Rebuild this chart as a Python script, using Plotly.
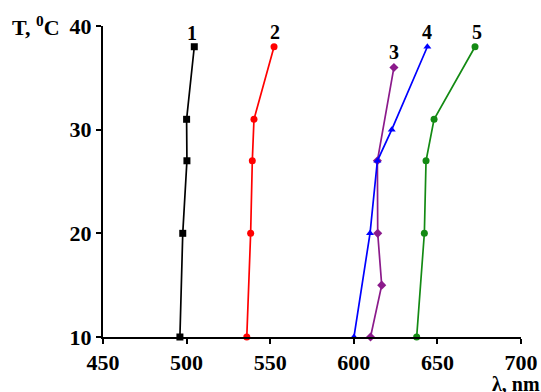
import plotly.graph_objects as go

temps1 = [10, 20, 27, 31, 38]
lam1 = [496, 497.7, 500.2, 500, 504.6]
temps2 = [10, 20, 27, 31, 38]
lam2 = [536, 538.3, 539.3, 540.3, 552.3]
temps3 = [10, 15, 20, 27, 36]
lam3 = [610, 616.7, 614.3, 614.1, 624]
temps4 = [10, 20, 27, 30, 38]
lam4 = [600.1, 609.7, 614.1, 622.7, 644]
temps5 = [10, 20, 27, 31, 38]
lam5 = [637.6, 642.2, 643.2, 648, 672.5]

labels = ["1", "2", "3", "4", "5"]
label_x = [503.5, 552.9, 624, 643.6, 673.5]
label_y = [39.35, 39.4, 37.5, 39.45, 39.45]

x_ticks = [450, 500, 550, 600, 650, 700]
y_ticks = [10, 20, 30, 40]

series = [
    (lam1, temps1, "black", "square"),
    (lam2, temps2, "#ff0000", "circle"),
    (lam3, temps3, "#8b1a8b", "diamond"),
    (lam4, temps4, "#0000ff", "triangle-up"),
    (lam5, temps5, "#138a13", "circle"),
]

fig = go.Figure()
for x, y, c, sym in series:
    fig.add_trace(go.Scatter(
        x=x, y=y, mode="lines+markers",
        line=dict(color=c, width=1.7),
        marker=dict(color=c, symbol=sym, size=7),
        showlegend=False, cliponaxis=False,
    ))

font_b = dict(family="Liberation Serif", color="black", size=20)
for t, x, y in zip(labels, label_x, label_y):
    fig.add_annotation(x=x, y=y, text="<b>%s</b>" % t, showarrow=False,
                       font=font_b, xanchor="center", yanchor="middle")

fig.add_annotation(xref="paper", yref="paper", x=-0.097, y=1.0,
                   text="<b>T, <sup>0</sup>C</b>", showarrow=False,
                   xanchor="right", yanchor="middle",
                   font=dict(family="Liberation Serif", color="black", size=22))
fig.add_annotation(xref="paper", yref="paper", x=1.05, y=-0.15,
                   text="<b>λ, nm</b>", showarrow=False,
                   xanchor="right", yanchor="middle",
                   font=dict(family="Liberation Serif", color="black", size=20))

axis_common = dict(
    showline=True, linecolor="black", linewidth=2,
    ticks="outside", tickcolor="black", tickwidth=2, ticklen=5,
    showgrid=False, zeroline=False, automargin=False,
    tickfont=dict(family="Liberation Serif", color="black", size=22),
)
fig.update_xaxes(range=[450, 700], tickvals=x_ticks,
                 ticktext=["<b>%d</b>" % v for v in x_ticks], **axis_common)
fig.update_yaxes(range=[10, 40], tickvals=y_ticks,
                 ticktext=["<b>%d</b>" % v for v in y_ticks], **axis_common)

fig.update_layout(
    width=541, height=392,
    margin=dict(l=103, r=20, t=26, b=55),
    plot_bgcolor="white", paper_bgcolor="white",
)
fig.write_html("out.html", config={"displayModeBar": False},
               post_script="document.body.style.margin='0px';")
